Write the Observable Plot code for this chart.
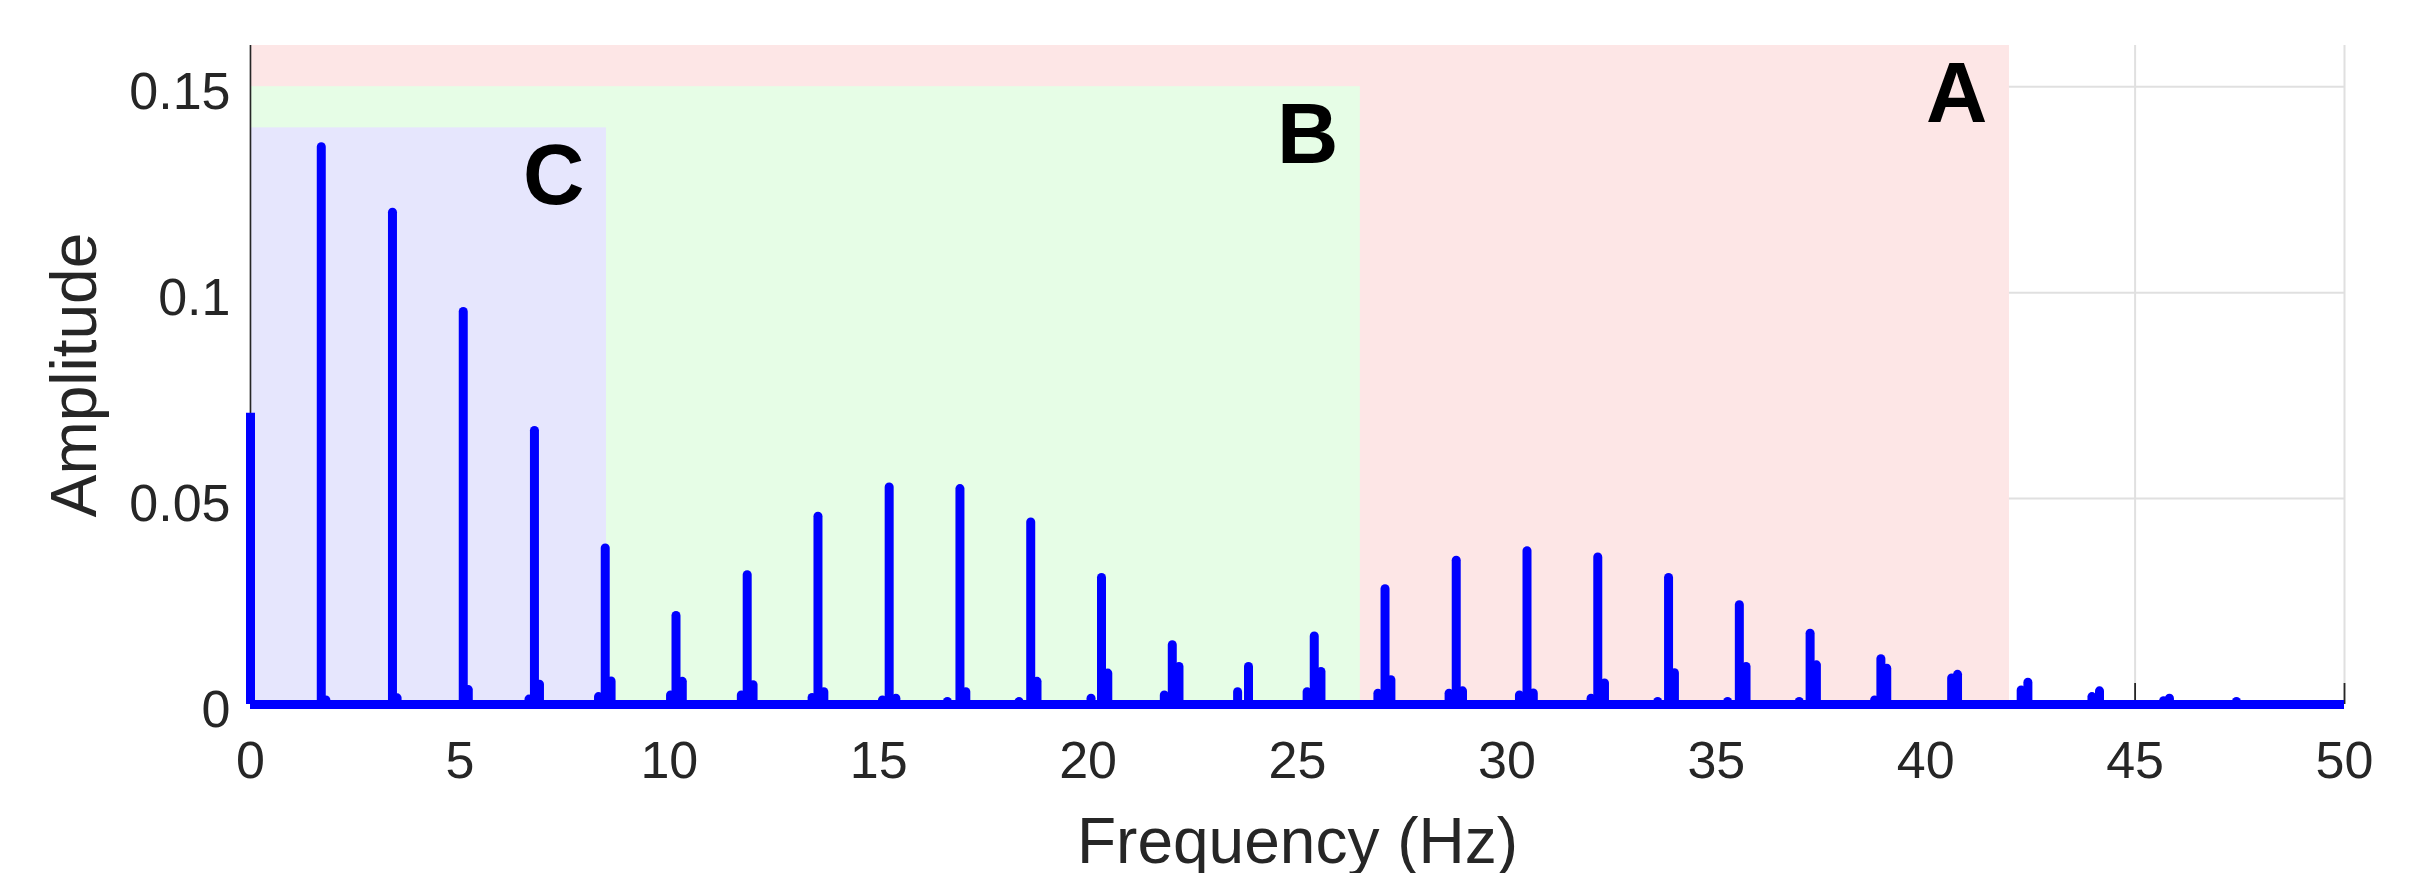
<!DOCTYPE html>
<html>
<head>
<meta charset="utf-8">
<script src="https://cdn.jsdelivr.net/npm/d3@7"></script>
<script src="https://cdn.jsdelivr.net/npm/@observablehq/plot@0.6"></script>
<style>
  html, body { margin: 0; padding: 0; background: #ffffff; overflow: hidden; }
</style>
</head>
<body>
<script>
// ---- Data ----
const xDomain = [0, 50];
const yDomain = [0, 0.16];
const xTicks = [0, 5, 10, 15, 20, 25, 30, 35, 40, 45, 50];
const yTicks = [0, 0.05, 0.1, 0.15];
const yTickLabels = ["0", "0.05", "0.1", "0.15"];

// shaded regions
const regionNames = ["A", "B", "C"];
const regionEnd = [42, 26.5, 8.5];     // Hz
const regionTop = [0.16, 0.15, 0.14];  // amplitude

// DC component at 0 Hz
const dcAmp = 0.0707;

// main harmonic peaks
const mainFreq = [1.69, 3.39, 5.08, 6.78, 8.47, 10.16, 11.86, 13.55, 15.25, 16.94,
  18.63, 20.32, 22.01, 23.83, 25.40, 27.09, 28.79, 30.48, 32.17, 33.86,
  35.55, 37.24, 38.93, 40.76, 42.44, 44.15, 45.82, 47.42];
const mainAmp = [0.1353, 0.1194, 0.0953, 0.0664, 0.0379, 0.0215, 0.0314, 0.0456, 0.0527, 0.0523,
  0.0442, 0.0307, 0.0144, 0.0091, 0.0165, 0.0280, 0.0349, 0.0372, 0.0357, 0.0307,
  0.0241, 0.0172, 0.0110, 0.0072, 0.0053, 0.0032, 0.0014, 0.0006];

// secondary / side peaks next to the harmonics
const sideFreq = [1.80, 3.50, 5.20, 6.65, 6.90, 8.31, 8.61, 10.03, 10.31, 11.72,
  12.00, 13.41, 13.69, 15.09, 15.41, 16.64, 17.08, 18.35, 18.78, 20.07,
  20.47, 21.82, 22.17, 23.57, 25.23, 25.56, 26.92, 27.23, 28.62, 28.94,
  30.30, 30.63, 32.01, 32.33, 33.60, 34.00, 35.27, 35.71, 36.98, 37.39,
  38.78, 39.07, 40.62, 42.28, 43.97, 45.68];
const sideAmp = [0.0010, 0.0015, 0.0035, 0.0012, 0.0048, 0.0018, 0.0056, 0.0022, 0.0055, 0.0022,
  0.0047, 0.0016, 0.0030, 0.0010, 0.0014, 0.0006, 0.0030, 0.0006, 0.0055, 0.0014,
  0.0075, 0.0022, 0.0091, 0.0030, 0.0030, 0.0079, 0.0026, 0.0059, 0.0026, 0.0032,
  0.0022, 0.0027, 0.0014, 0.0051, 0.0006, 0.0076, 0.0006, 0.0091, 0.0006, 0.0095,
  0.0010, 0.0087, 0.0063, 0.0034, 0.0018, 0.0008];

const xLabel = "Frequency (Hz)";
const yLabel = "Amplitude";

// ---- tables built from the arrays ----
const regions = regionNames.map((name, i) => ({name, x2: regionEnd[i], y2: regionTop[i]}));
const regionFill = ["#fde6e6", "#e6fde6", "#e6e6fd"];
const mainPeaks = mainFreq.map((f, i) => ({f, a: mainAmp[i]}));
const sidePeaks = sideFreq.map((f, i) => ({f, a: sideAmp[i]}));
const dc = [{f: xDomain[0], a: dcAmp}];

const FONT = "'Liberation Sans', Arial, Helvetica, sans-serif";
const TXT = "#262626";
const BLUE = "#0000ff";
const LW = 9;

const chart = Plot.plot({
  width: 2423,
  height: 873,
  marginLeft: 250,
  marginRight: 79,
  marginTop: 45,
  marginBottom: 169,
  x: {domain: xDomain, axis: null},
  y: {domain: yDomain, axis: null},
  style: {fontFamily: FONT, background: "#ffffff", overflow: "visible"},
  marks: [
    // grid
    Plot.ruleX(xTicks, {stroke: "#e0e0e0", strokeWidth: 2}),
    Plot.ruleY(yTicks, {stroke: "#e0e0e0", strokeWidth: 2}),
    // inward x ticks
    Plot.ruleX(xTicks, {stroke: TXT, strokeWidth: 1.8, insetTop: 659 - 21}),
    // shaded regions
    Plot.rect(regions, {x1: xDomain[0], x2: "x2", y1: yDomain[0], y2: "y2",
      fill: (d, i) => regionFill[i]}),
    // left axis line
    Plot.ruleX([xDomain[0]], {stroke: TXT, strokeWidth: 1.6}),
    // spectrum
    Plot.ruleY([0], {x1: xDomain[0], x2: xDomain[1], stroke: BLUE, strokeWidth: LW}),
    Plot.ruleX(sidePeaks, {x: "f", y1: 0, y2: "a", stroke: BLUE, strokeWidth: LW, strokeLinecap: "round"}),
    Plot.ruleX(mainPeaks, {x: "f", y1: 0, y2: "a", stroke: BLUE, strokeWidth: LW, strokeLinecap: "round"}),
    Plot.ruleX(dc, {x: "f", y1: 0, y2: "a", stroke: BLUE, strokeWidth: LW, strokeLinecap: "butt"}),
    // region labels
    Plot.text(regions, {x: "x2", y: "y2", text: "name", textAnchor: "end", lineAnchor: "bottom",
      dx: -22, dy: 76, fontSize: 85, fontWeight: "bold", fill: "#000000"}),
    // tick labels
    Plot.text(xTicks, {x: d => d, text: d => String(d), frameAnchor: "bottom", lineAnchor: "top",
      dy: 37, fontSize: 52, fill: TXT}),
    Plot.text(yTicks, {y: d => d, text: (d, i) => yTickLabels[i], frameAnchor: "left", textAnchor: "end",
      dx: -20, dy: 6, fontSize: 52, fill: TXT}),
    // axis labels
    Plot.text([xLabel], {text: d => d, frameAnchor: "bottom", textAnchor: "middle", lineAnchor: "bottom",
      dy: 158, fontSize: 64, fill: TXT}),
    Plot.text([yLabel], {text: d => d, frameAnchor: "left", textAnchor: "middle", lineAnchor: "bottom", rotate: -90,
      dx: -155, fontSize: 64, fill: TXT})
  ]
});
document.body.appendChild(chart);
</script>
</body>
</html>
